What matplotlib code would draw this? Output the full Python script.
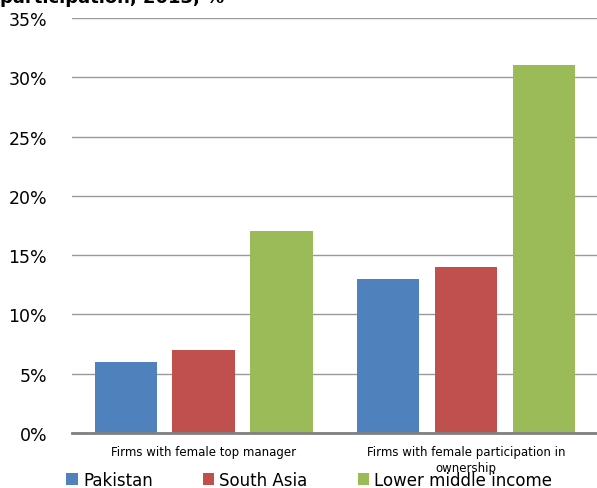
import numpy as np
import matplotlib.pyplot as plt
from matplotlib.ticker import PercentFormatter

categories = ['Firms with female top manager',
              'Firms with female participation in\nownership']
series = ['Pakistan', 'South Asia', 'Lower middle income']
pakistan = [6, 13]
south_asia = [7, 14]
lower_middle = [17, 31]
colors = ['#4F81BD', '#C0504D', '#9BBB59']

fig = plt.figure(figsize=(5.97, 4.89), dpi=100)
ax = fig.add_axes([0.121, 0.1125, 0.879, 0.8487])

x = np.arange(len(categories))
width = 0.238
offsets = [-0.296, 0, 0.298]
for vals, off, c, name in zip([pakistan, south_asia, lower_middle], offsets, colors, series):
    ax.bar(x + off, vals, width, color=c, label=name, zorder=3)

ax.set_xlim(-0.5, 1.5)
ax.set_ylim(0, 35)
ax.set_yticks(np.arange(0, 36, 5))
ax.yaxis.set_major_formatter(PercentFormatter(decimals=0))
ax.grid(axis='y', color='#999999', linewidth=1.0, zorder=0)
for s in ['top', 'right', 'left']:
    ax.spines[s].set_visible(False)
ax.spines['bottom'].set_color('#808080')
ax.spines['bottom'].set_linewidth(2)
ax.spines['bottom'].set_zorder(4)

ax.set_xticks(x)
ax.set_xticklabels(categories, fontsize=8.5, linespacing=1.3)
ax.tick_params(axis='x', length=0, pad=9)
ax.tick_params(axis='y', length=0, pad=18, labelsize=12.5)

fig.text(0.0, 1.004, 'participation, 2013, %', fontsize=13, fontweight='bold',
         ha='left', va='center')

fig.legend(loc='lower left', bbox_to_anchor=(0.1, -0.015), ncol=3, frameon=False,
           fontsize=12, handlelength=0.7, handleheight=0.7, handletextpad=0.3,
           columnspacing=3.0, borderaxespad=0)

fig.savefig('out.png', dpi=100)
